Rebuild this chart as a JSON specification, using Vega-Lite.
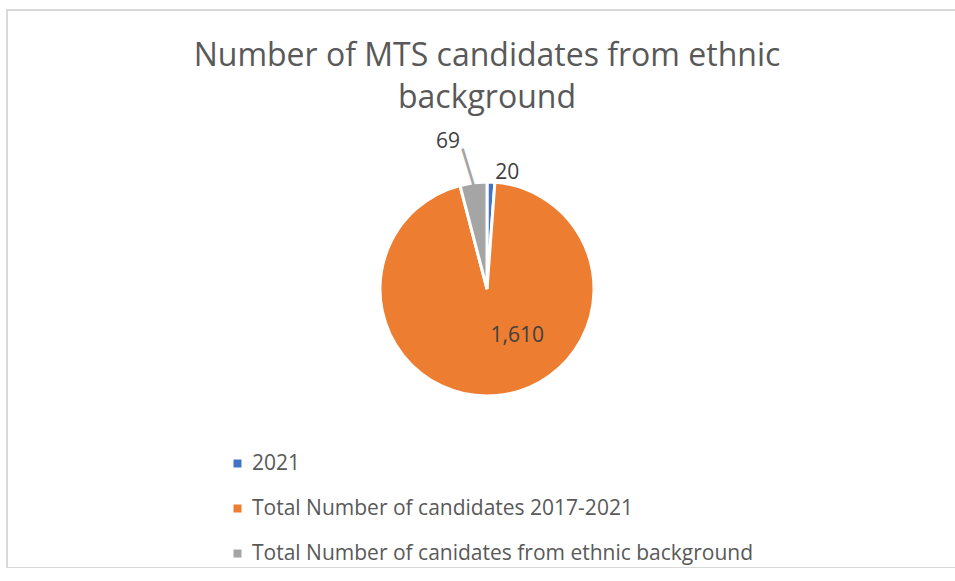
{
  "$schema": "https://vega.github.io/schema/vega-lite/v6.json",
  "autosize": "none",
  "width": 960,
  "height": 558,
  "padding": {"left": 7, "top": 10, "right": 0, "bottom": 0},
  "background": "white",
  "view": {"stroke": "#D9D9D9", "strokeWidth": 2},
  "title": {
    "text": ["Number of MTS candidates from ethnic", "background"],
    "font": "Open Sans",
    "fontSize": 32,
    "fontWeight": "normal",
    "color": "#595959",
    "anchor": "middle",
    "offset": -105,
    "lineHeight": 42
  },
  "data": {
    "values": [
      {"category": "2021", "value": 20},
      {"category": "Total Number of candidates 2017-2021", "value": 1610},
      {"category": "Total Number of canidates from ethnic background", "value": 69}
    ]
  },
  "encoding": {
    "theta": {"field": "value", "type": "quantitative", "stack": true},
    "order": {"field": "category", "type": "ordinal", "sort": "ascending"}
  },
  "layer": [
    {
      "mark": {"type": "arc", "radius": 107, "stroke": "white", "strokeWidth": 3},
      "encoding": {
        "color": {
          "field": "category",
          "type": "nominal",
          "scale": {"range": ["#4472C4", "#ED7D31", "#A5A5A5"]},
          "legend": {
            "title": null,
            "orient": "none",
            "legendX": 220,
            "legendY": 443,
            "direction": "vertical",
            "symbolType": "square",
            "symbolSize": 64,
            "symbolStrokeWidth": 0,
            "symbolOpacity": 1,
            "labelFont": "Open Sans",
            "labelFontSize": 21,
            "labelColor": "#595959",
            "labelOffset": 4,
            "labelLimit": 800,
            "rowPadding": 23,
            "padding": 0
          }
        }
      }
    },
    {
      "mark": {"type": "text", "radius": 116.5, "dx": 16, "font": "Open Sans", "fontSize": 21, "fill": "#404040"},
      "encoding": {
        "text": {"condition": {"test": "datum.category === '2021'", "field": "value", "type": "quantitative", "format": ","}, "value": ""}
      }
    },
    {
      "mark": {"type": "text", "radius": 47, "dx": 26, "font": "Open Sans", "fontSize": 21, "fill": "#404040"},
      "encoding": {
        "text": {"condition": {"test": "datum.category === 'Total Number of candidates 2017-2021'", "field": "value", "type": "quantitative", "format": ","}, "value": ""}
      }
    },
    {
      "mark": {"type": "text", "radius": 148.5, "dx": -20, "font": "Open Sans", "fontSize": 21, "fill": "#404040"},
      "encoding": {
        "text": {"condition": {"test": "datum.category === 'Total Number of canidates from ethnic background'", "field": "value", "type": "quantitative", "format": ","}, "value": ""}
      }
    },
    {
      "mark": {"type": "text", "radius": 113, "dx": -11, "angle": 73, "font": "Liberation Sans", "fontSize": 38, "fill": "#A5A5A5"},
      "encoding": {
        "text": {"condition": {"test": "datum.category === 'Total Number of canidates from ethnic background'", "value": "—"}, "value": ""}
      }
    }
  ]
}
